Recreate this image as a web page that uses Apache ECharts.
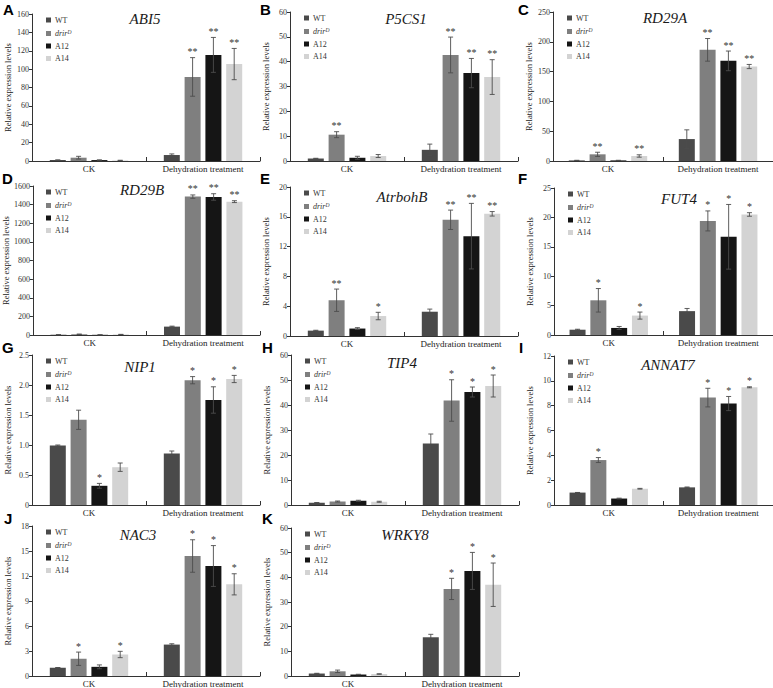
<!DOCTYPE html>
<html>
<head>
<meta charset="utf-8">
<script src="https://cdn.jsdelivr.net/npm/echarts@6.0.0/dist/echarts.min.js"></script>
<style>
  html, body { margin: 0; padding: 0; background: #fff; }
  #main { width: 773px; height: 688px; }
</style>
</head>
<body>
<div id="main"></div>
<script>
// categories and groups
const categories = ['CK', 'Dehydration treatment'];
const genotypes = ['WT', 'drir', 'A12', 'A14'];
const genes = ['ABI5', 'P5CS1', 'RD29A', 'RD29B', 'AtrbohB', 'FUT4', 'NIP1', 'TIP4', 'ANNAT7', 'NAC3', 'WRKY8'];
const letters = ['A', 'B', 'C', 'D', 'E', 'F', 'G', 'H', 'I', 'J', 'K'];

// each row = genotype (WT, drir, A12, A14), columns = [CK, dehydration]
const abi5Mean = [[1.0, 6.5], [3.6, 91.5], [1.0, 115.5], [0.6, 105.5]];
const abi5Err  = [[0.2, 1.2], [1.5, 21], [0.2, 19], [0.2, 17]];
const abi5Star = [[0, 0], [0, 2], [0, 2], [0, 2]];

const p5cs1Mean = [[1.0, 4.5], [10.6, 42.7], [1.3, 35.4], [2.0, 33.8]];
const p5cs1Err  = [[0.1, 2.3], [1.2, 7.2], [0.6, 5.9], [0.6, 7.0]];
const p5cs1Star = [[0, 0], [2, 2], [0, 2], [0, 2]];

const rd29aMean = [[1.0, 36.8], [11.2, 186.5], [1.0, 168], [8.4, 158.5]];
const rd29aErr  = [[0.2, 15.5], [3.5, 19], [0.2, 16.5], [2.0, 3.5]];
const rd29aStar = [[0, 0], [2, 2], [0, 2], [2, 2]];

const rd29bMean = [[3, 90], [8, 1486], [2, 1482], [6, 1432]];
const rd29bErr  = [[1, 5], [2, 18], [1, 35], [1, 10]];
const rd29bStar = [[0, 0], [0, 2], [0, 2], [0, 2]];

const atrbohbMean = [[0.72, 3.26], [4.8, 15.6], [1.0, 13.4], [2.68, 16.4]];
const atrbohbErr  = [[0.05, 0.35], [1.5, 1.3], [0.12, 4.4], [0.5, 0.3]];
const atrbohbStar = [[0, 0], [2, 2], [0, 2], [1, 2]];

const fut4Mean = [[0.9, 4.06], [5.9, 19.4], [1.2, 16.7], [3.3, 20.5]];
const fut4Err  = [[0.08, 0.45], [2.0, 1.7], [0.25, 5.5], [0.6, 0.3]];
const fut4Star = [[0, 0], [1, 1], [0, 1], [1, 1]];

const nip1Mean = [[0.99, 0.86], [1.42, 2.08], [0.32, 1.75], [0.63, 2.1]];
const nip1Err  = [[0.01, 0.04], [0.16, 0.06], [0.04, 0.22], [0.07, 0.06]];
const nip1Star = [[0, 0], [0, 1], [1, 1], [0, 1]];

const tip4Mean = [[0.9, 24.6], [1.4, 41.8], [1.7, 45.2], [1.3, 47.6]];
const tip4Err  = [[0.1, 3.8], [0.2, 8.3], [0.2, 2.0], [0.2, 4.4]];
const tip4Star = [[0, 0], [0, 1], [0, 1], [0, 1]];

const annat7Mean = [[1.0, 1.42], [3.62, 8.65], [0.52, 8.17], [1.31, 9.48]];
const annat7Err  = [[0.01, 0.03], [0.2, 0.75], [0.03, 0.57], [0.03, 0.04]];
const annat7Star = [[0, 0], [1, 1], [0, 1], [0, 1]];

const nac3Mean = [[1.0, 3.77], [2.07, 14.4], [1.1, 13.2], [2.58, 11.0]];
const nac3Err  = [[0.02, 0.1], [0.8, 1.95], [0.23, 2.45], [0.38, 1.27]];
const nac3Star = [[0, 0], [1, 1], [0, 1], [1, 1]];

const wrky8Mean = [[1.0, 15.7], [1.9, 35.3], [0.6, 42.6], [0.8, 37.0]];
const wrky8Err  = [[0.1, 1.2], [0.5, 4.3], [0.1, 7.5], [0.1, 8.8]];
const wrky8Star = [[0, 0], [0, 1], [0, 1], [0, 1]];

const means = [abi5Mean, p5cs1Mean, rd29aMean, rd29bMean, atrbohbMean, fut4Mean, nip1Mean, tip4Mean, annat7Mean, nac3Mean, wrky8Mean];
const errs  = [abi5Err, p5cs1Err, rd29aErr, rd29bErr, atrbohbErr, fut4Err, nip1Err, tip4Err, annat7Err, nac3Err, wrky8Err];
const stars = [abi5Star, p5cs1Star, rd29aStar, rd29bStar, atrbohbStar, fut4Star, nip1Star, tip4Star, annat7Star, nac3Star, wrky8Star];

// y axis ranges
const yMax  = [160, 60, 250, 1600, 20, 25, 2.5, 60, 12, 18, 60];
const yStep = [20, 10, 50, 200, 4, 5, 0.5, 10, 2, 3, 10];

// layout: [left, top, width, height]
const boxes = [
  [32, 14, 228, 147], [290, 12, 228, 149], [553, 12, 228, 149],
  [32, 186, 228, 149], [290, 187, 228, 149], [554, 188, 228, 147],
  [32, 355, 228, 150], [291, 355, 228, 150], [554, 356, 228, 149],
  [32, 526, 228, 151], [291, 528, 228, 149]
];
const titlePos = [
  [145, 19], [406, 19], [665, 18],
  [142, 190], [402, 197], [679, 199],
  [140, 367], [402, 363], [668, 365],
  [138, 535], [405, 535]
];
const letterPos = [
  [3, 2], [260, 2], [518, 2],
  [2, 171], [260, 171], [518, 171],
  [2, 340], [262, 340], [519, 340],
  [4, 511], [262, 511]
];

const colors = ['#4a4a4a', '#7f7f7f', '#151515', '#d3d3d3'];
const SERIF = "'Liberation Serif', 'DejaVu Serif', serif";
const BAR_W = 16;

function errRender(k) {
  return function (params, api) {
    const cat = api.value(0);
    const v = api.value(1);
    const e = api.value(2);
    const s = api.value(3);
    const x = api.coord([cat, v])[0] + (k - 1.5) * BAR_W * 1.3;
    const top = api.coord([cat, v + e])[1];
    const bot = api.coord([cat, Math.max(v - e, 0)])[1];
    const style = { stroke: '#4d4d4d', lineWidth: 0.9 };
    const cap = 2.5;
    const children = [
      { type: 'line', shape: { x1: x, y1: top, x2: x, y2: bot }, style: style },
      { type: 'line', shape: { x1: x - cap, y1: top, x2: x + cap, y2: top }, style: style },
      { type: 'line', shape: { x1: x - cap, y1: bot, x2: x + cap, y2: bot }, style: style }
    ];
    if (s > 0) {
      children.push({
        type: 'text', x: x, y: top - 1,
        style: {
          text: '*'.repeat(s), font: '10px ' + SERIF, fill: '#333',
          align: 'center', verticalAlign: 'bottom',
          textAlign: 'center', textVerticalAlign: 'bottom'
        }
      });
    }
    return { type: 'group', children: children };
  };
}

const grid = [], xAxis = [], yAxis = [], legend = [], series = [], graphic = [];

genes.forEach(function (gene, p) {
  const b = boxes[p];
  grid.push({ left: b[0], top: b[1], width: b[2], height: b[3] });

  xAxis.push({
    type: 'category', gridIndex: p, data: categories,
    axisLine: { lineStyle: { color: '#333', width: 1 } },
    axisTick: { show: true, inside: true, length: 4, lineStyle: { color: '#333' } },
    axisLabel: { fontSize: 9, fontFamily: SERIF, color: '#222', margin: 3 }
  });

  yAxis.push({
    type: 'value', gridIndex: p, min: 0, max: yMax[p], interval: yStep[p],
    name: 'Relative expression levels', nameLocation: 'middle', nameGap: 20,
    nameTextStyle: { fontSize: 8.5, fontFamily: SERIF, color: '#222' },
    axisLine: { show: true, lineStyle: { color: '#333', width: 1 } },
    axisTick: { show: true, length: 3, lineStyle: { color: '#333' } },
    axisLabel: {
      fontSize: 8, fontFamily: SERIF, color: '#333', margin: 3,
      formatter: function (v) { return yStep[p] < 1 && v !== 0 ? v.toFixed(1) : String(v); }
    },
    splitLine: { show: false }
  });

  legend.push({
    left: b[0] + 9, top: b[1] - 3, orient: 'vertical',
    data: genotypes, icon: 'rect', itemWidth: 5, itemHeight: 5, itemGap: 4.5,
    selectedMode: false,
    formatter: function (name) {
      return name === 'drir' ? '{i|drir}{s|D}' : '{n|' + name + '}';
    },
    textStyle: {
      fontSize: 8, fontFamily: SERIF, color: '#333', padding: [0, 0, 0, -1],
      rich: {
        n: { fontSize: 8, fontFamily: SERIF, color: '#333', lineHeight: 10 },
        i: { fontSize: 8, fontFamily: SERIF, color: '#333', fontStyle: 'italic', lineHeight: 10 },
        s: { fontSize: 5.5, fontFamily: SERIF, color: '#333', fontStyle: 'italic', verticalAlign: 'top' }
      }
    }
  });

  genotypes.forEach(function (g, k) {
    series.push({
      type: 'bar', name: g, xAxisIndex: p, yAxisIndex: p,
      data: means[p][k], barWidth: BAR_W, barGap: '30%',
      itemStyle: { color: colors[k] }, silent: true
    });
    series.push({
      type: 'custom', xAxisIndex: p, yAxisIndex: p, z: 5, silent: true,
      renderItem: errRender(k),
      data: [0, 1].map(function (c) {
        return [c, means[p][k][c], errs[p][k][c], stars[p][k][c]];
      })
    });
  });

  graphic.push({
    type: 'text', x: titlePos[p][0], y: titlePos[p][1],
    style: {
      text: gene, font: 'italic 15px ' + SERIF, fill: '#1a1a1a',
      align: 'center', verticalAlign: 'middle',
      textAlign: 'center', textVerticalAlign: 'middle'
    }
  });
  graphic.push({
    type: 'text', x: letterPos[p][0], y: letterPos[p][1],
    style: {
      text: letters[p], font: "bold 15px 'Liberation Sans', Arial, sans-serif", fill: '#000',
      align: 'left', verticalAlign: 'top', textAlign: 'left', textVerticalAlign: 'top'
    }
  });
});

const chart = echarts.init(document.getElementById('main'), null, { renderer: 'svg' });
chart.setOption({
  animation: false,
  backgroundColor: '#fff',
  grid: grid,
  xAxis: xAxis,
  yAxis: yAxis,
  legend: legend,
  series: series,
  graphic: graphic
});
</script>
</body>
</html>
